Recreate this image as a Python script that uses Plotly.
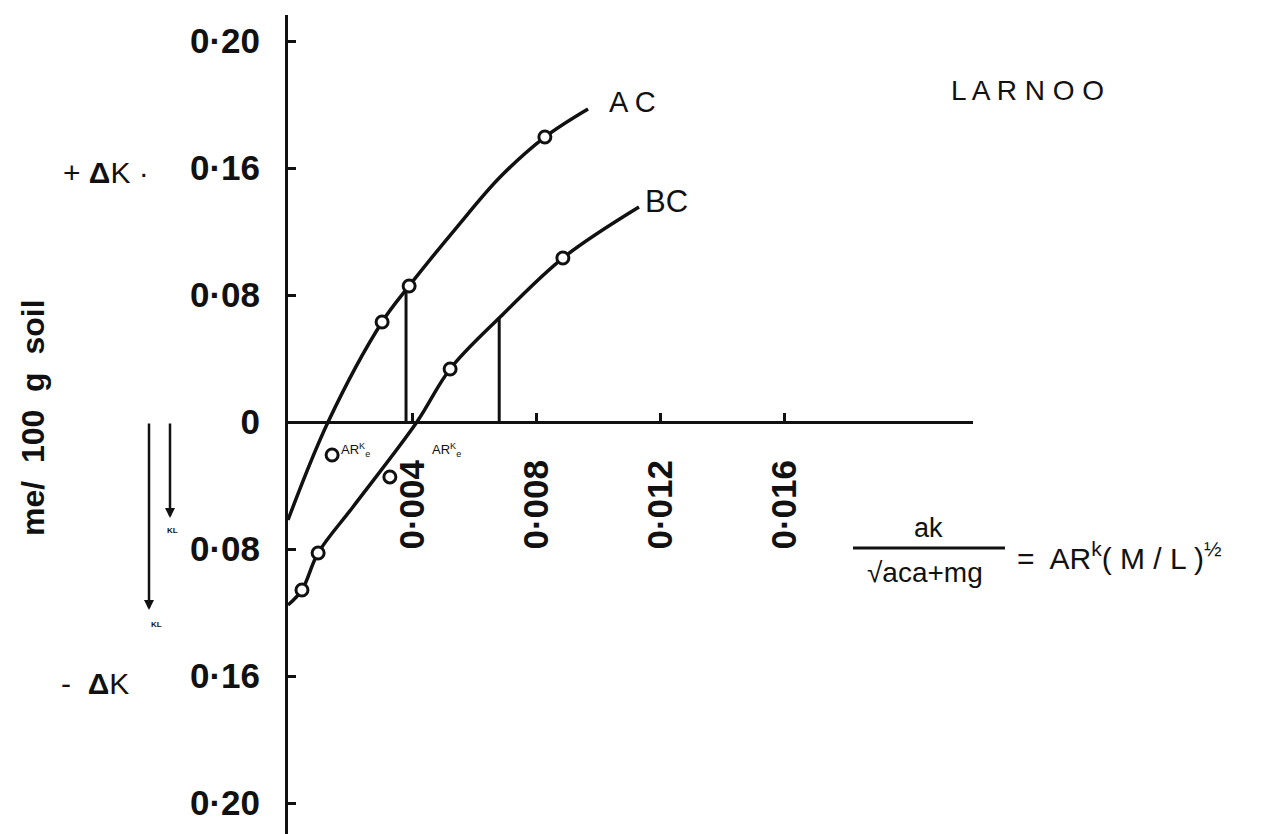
import plotly.graph_objects as go

# ---- data (x = ak/sqrt(aca+mg), y = delta K, me/100 g soil) ----
ac_line_x = [0.0, 0.00129, 0.00303, 0.0039, 0.00544, 0.00683, 0.00827, 0.00966]
ac_line_y = [-0.0617, 0.0, 0.063, 0.0857, 0.1228, 0.1543, 0.1795, 0.1972]
ac_pts_x = [0.00142, 0.00303, 0.0039, 0.00827]
ac_pts_y = [-0.0208, 0.063, 0.0857, 0.1795]

bc_line_x = [0.0, 0.00045, 0.00097, 0.00209, 0.00415, 0.00522, 0.00683, 0.00885, 0.0113]
bc_line_y = [-0.1153, -0.1058, -0.0825, -0.0535, 0.0, 0.0334, 0.0661, 0.1033, 0.1354]
bc_pts_x = [0.00045, 0.00097, 0.00328, 0.00522, 0.00885]
bc_pts_y = [-0.1058, -0.0825, -0.0346, 0.0334, 0.1033]

ac_drop_x = [0.0038, 0.0038]
ac_drop_y = [0.0, 0.0813]
bc_drop_x = [0.0068, 0.0068]
bc_drop_y = [0.0, 0.0661]

y_tickvals = [0.24, 0.16, 0.08, 0.0, -0.08, -0.16, -0.24]
y_ticktext = ["0·20", "0·16", "0·08", "0", "0·08", "0·16", "0·20"]
x_tickvals = [0.004, 0.008, 0.012, 0.016]
x_ticktext = ["0·004", "0·008", "0·012", "0·016"]

INK = "#111111"
W, H = 1271, 834
OFF = 8  # page body margin: figure is drawn 8 px right/down of the window corner

fig = go.Figure()

line_style = dict(color=INK, width=3.5, shape="spline", smoothing=1.0)
fig.add_trace(go.Scatter(x=ac_line_x, y=ac_line_y, mode="lines", line=line_style, hoverinfo="skip"))
fig.add_trace(go.Scatter(x=bc_line_x, y=bc_line_y, mode="lines", line=line_style, hoverinfo="skip"))
fig.add_trace(go.Scatter(x=ac_drop_x, y=ac_drop_y, mode="lines", line=dict(color=INK, width=3)))
fig.add_trace(go.Scatter(x=bc_drop_x, y=bc_drop_y, mode="lines", line=dict(color=INK, width=3)))

mk = dict(symbol="circle", size=12, color="white", line=dict(color=INK, width=3))
fig.add_trace(go.Scatter(x=ac_pts_x, y=ac_pts_y, mode="markers", marker=mk, name="AC"))
fig.add_trace(go.Scatter(x=bc_pts_x, y=bc_pts_y, mode="markers", marker=mk, name="BC"))

# geometry in window pixels: origin at (288, 422); 31060 px per x unit, 1587.5 px per y unit
x0px, y0px, xs, ys = 288 - OFF, 422 - OFF, 31060.0, 1587.5
x_end_px = 973 - OFF
y_top_px = 15 - OFF

tick_font = dict(family="Liberation Sans", size=35, color=INK, weight="bold")

fig.update_layout(
    width=W, height=H, autosize=False,
    margin=dict(l=0, r=0, t=0, b=0),
    paper_bgcolor="white", plot_bgcolor="white",
    showlegend=False,
    xaxis=dict(
        domain=[x0px / W, x_end_px / W],
        range=[0, (x_end_px - x0px) / xs],
        anchor="free", position=(H - y0px) / H,
        showline=True, linecolor=INK, linewidth=3,
        showgrid=False, zeroline=False,
        ticks="inside", ticklen=8, tickwidth=3, tickcolor=INK,
        tickvals=x_tickvals, ticktext=x_ticktext,
        tickangle=-90, tickfont=tick_font, ticklabelstandoff=22,
    ),
    yaxis=dict(
        domain=[0, (H - y_top_px) / H],
        range=[(y0px - H) / ys, (y0px - y_top_px) / ys],
        anchor="x",
        showline=True, linecolor=INK, linewidth=3,
        showgrid=False, zeroline=False,
        ticks="inside", ticklen=8, tickwidth=3, tickcolor=INK,
        tickvals=y_tickvals, ticktext=y_ticktext,
        tickfont=tick_font, ticklabelstandoff=18,
    ),
)

def px(xp):
    return (xp - OFF) / W

def py(yp):
    return (H - (yp - OFF)) / H

txt = dict(family="Liberation Sans", color=INK)

annots = [
    dict(text="A C", x=px(632), y=py(102), font=dict(size=29, **txt)),
    dict(text="BC", x=px(666), y=py(201), font=dict(size=31, **txt)),
    dict(text="L A R N O O", x=px(1027), y=py(90), font=dict(size=28, **txt)),
    dict(text="+ <b>Δ</b>K ·", x=px(106), y=py(172), font=dict(size=30, **txt)),
    dict(text="-  <b>Δ</b>K", x=px(95), y=py(683), font=dict(size=30, **txt)),
    dict(text="me/  100  g  soil", x=px(33), y=py(418), textangle=-90,
         font=dict(size=32, weight="bold", **txt)),
    dict(text="ak", x=px(928), y=py(528), font=dict(size=27, **txt)),
    dict(text="√aca+mg", x=px(925), y=py(572), font=dict(size=28, **txt)),
    dict(text="=  AR<sup>k</sup>( M / L )<sup>½</sup>", x=px(1015), y=py(556), xanchor="left",
         font=dict(size=30, **txt)),
    dict(text="AR<sup>K</sup><sub>e</sub>", x=px(355), y=py(450), font=dict(size=13, **txt)),
    dict(text="AR<sup>K</sup><sub>e</sub>", x=px(446), y=py(450), font=dict(size=13, **txt)),
    dict(text="KL", x=px(172), y=py(530), font=dict(size=8, weight="bold", **txt)),
    dict(text="KL", x=px(156), y=py(624), font=dict(size=8, weight="bold", **txt)),
]
for a in annots:
    a.setdefault("xref", "paper")
    a.setdefault("yref", "paper")
    a.setdefault("xanchor", "center")
    a.setdefault("yanchor", "middle")
    a.setdefault("showarrow", False)
    fig.add_annotation(**a)

# downward arrows on the left (delta K direction markers)
for xa, y_head, length in [(149, 610, 188), (170, 518, 96)]:
    fig.add_annotation(x=px(xa), y=py(y_head), xref="paper", yref="paper",
                       ax=0, ay=-length, showarrow=True, text="",
                       arrowhead=2, arrowsize=0.8, arrowwidth=2.5, arrowcolor=INK)

# fraction bar of the abscissa expression
fig.add_shape(type="line", xref="paper", yref="paper",
              x0=px(853), x1=px(1005), y0=py(548), y1=py(548),
              line=dict(color=INK, width=3))

fig.write_html("out.html")
